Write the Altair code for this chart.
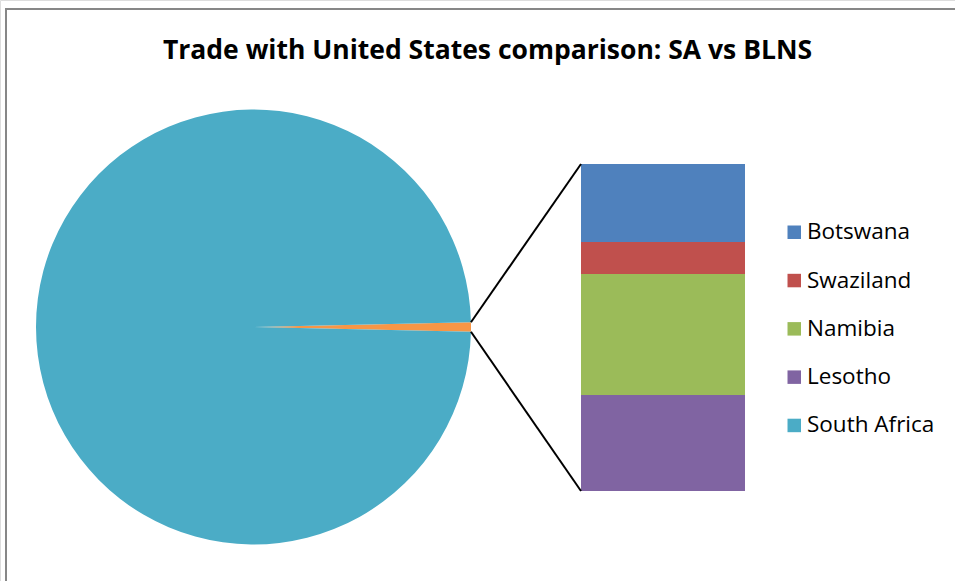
import math
import altair as alt
import pandas as pd

# ---- data ----
title_text = "Trade with United States comparison: SA vs BLNS"
blns_countries = ["Botswana", "Swaziland", "Namibia", "Lesotho"]
blns_values = [78, 32, 121, 96]
sa_name = "South Africa"
sa_value = 46250
other_name = "Other"

legend_order = blns_countries + [sa_name]
color_domain = blns_countries + [sa_name, other_name]
color_range = ["#4F81BD", "#C0504D", "#9BBB59", "#8064A2", "#4BACC6", "#F79646"]

# ---- layout (pixels) ----
W, H = 955, 581
cx, cy, R = 253.5, 327.0, 217.5
bar_x0, bar_x1, bar_y0, bar_y1 = 581, 745, 164, 491
FONT = "Open Sans"

blns_total = sum(blns_values)
total = blns_total + sa_value
f = blns_total / total
start = math.pi / 2 - f * math.pi

pie_df = pd.DataFrame({
    "name": [other_name, sa_name],
    "value": [blns_total, sa_value],
    "ord": [0, 1],
})
bar_df = pd.DataFrame({
    "name": blns_countries,
    "value": blns_values,
    "ord": list(range(len(blns_countries))),
})

color = alt.Color(
    "name:N",
    scale=alt.Scale(domain=color_domain, range=color_range),
    legend=alt.Legend(
        values=legend_order,
        title=None,
        orient="none",
        legendX=783,
        legendY=221,
        padding=0,
        symbolType="square",
        symbolSize=182,
        symbolStrokeWidth=0,
        symbolOpacity=1,
        labelFont=FONT,
        labelFontSize=22.5,
        labelColor="#000000",
        labelOffset=1.5,
        rowPadding=25.3,
    ),
)

pie = alt.Chart(pie_df).mark_arc(outerRadius=R, stroke=None).encode(
    x=alt.value(cx),
    y=alt.value(cy),
    theta=alt.Theta("value:Q", stack=True,
                    scale=alt.Scale(range=[start, start + 2 * math.pi])),
    color=color,
    order=alt.Order("ord:Q"),
)

bar = alt.Chart(bar_df).transform_stack(
    stack="value",
    groupby=[],
    as_=["y0", "y1"],
    sort=[alt.SortField("ord", order="ascending")],
).mark_rect(stroke=None).encode(
    x=alt.value(bar_x0),
    x2=alt.value(bar_x1),
    y=alt.Y("y0:Q", axis=None,
            scale=alt.Scale(domain=[0, blns_total], range=[bar_y0, bar_y1], nice=False, zero=True)),
    y2="y1:Q",
    color=color,
)

one = pd.DataFrame({"k": [0]})
ex = cx + R * math.cos(f * math.pi)
ey_top = cy - R * math.sin(f * math.pi)
ey_bot = cy + R * math.sin(f * math.pi)

line_top = alt.Chart(one).mark_rule(color="#000000", strokeWidth=2).encode(
    x=alt.value(ex), y=alt.value(ey_top), x2=alt.value(bar_x0), y2=alt.value(bar_y0)
)
line_bot = alt.Chart(one).mark_rule(color="#000000", strokeWidth=2).encode(
    x=alt.value(ex), y=alt.value(ey_bot), x2=alt.value(bar_x0), y2=alt.value(bar_y1)
)

frame = alt.Chart(one).mark_rect(fill=None, stroke="#878787", strokeWidth=2).encode(
    x=alt.value(6), y=alt.value(9), x2=alt.value(W + 20), y2=alt.value(H + 20)
)

chart = alt.layer(frame, pie, bar, line_top, line_bot).properties(
    width=W,
    height=H,
    padding=0,
    autosize=alt.AutoSizeParams(type="none"),
    title=alt.Title(
        title_text,
        font=FONT,
        fontSize=26.5,
        fontWeight="bold",
        color="#000000",
        anchor="middle",
        offset=-64,
        dx=10,
    ),
).configure_view(stroke=None).configure(background="white")

chart.save("out.html", embed_options={"renderer": "svg", "actions": False})
